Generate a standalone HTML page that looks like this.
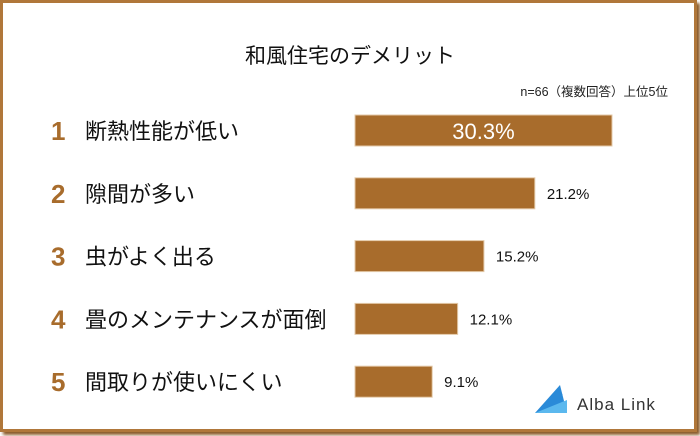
<!DOCTYPE html>
<html><head><meta charset="utf-8"><style>
body{margin:0;width:700px;height:436px;background:#fff;overflow:hidden;font-family:"Liberation Sans","Noto Sans CJK JP",sans-serif}
#frame{position:absolute;left:0;top:0;width:691px;height:426px;border:3px solid #b0773a;box-shadow:3px 3px 3px #8a5a28;background:#fff}
</style></head><body>
<div id="frame"></div>
<svg id="chart" width="700" height="436" style="position:absolute;left:0;top:0">
<text x="350" y="63" text-anchor="middle" font-size="21" fill="#111" font-family="'Liberation Sans','Noto Sans CJK JP',sans-serif">和風住宅のデメリット</text>
<text x="668" y="96" text-anchor="end" font-size="12.5" fill="#222" font-family="'Liberation Sans','Noto Sans CJK JP',sans-serif">n=66（複数回答）上位5位</text>
<g id="bars"></g>
<g>
<polygon points="535,413 560,385 567,413" fill="#2a8ad8"/>
<polygon points="535,413 567,400 567,413" fill="#5bb8ee"/>
<circle cx="561" cy="395" r="1.5" fill="#2a8ad8"/>
<text x="577" y="410" font-size="17" fill="#333" letter-spacing="1" font-family="'Liberation Sans',sans-serif">Alba Link</text>
</g>
</svg>
<script>
const categories=["断熱性能が低い","隙間が多い","虫がよく出る","畳のメンテナンスが面倒","間取りが使いにくい"];
const values=[30.3,21.2,15.2,12.1,9.1];
const valueLabels=["30.3%","21.2%","15.2%","12.1%","9.1%"];
const x0=355, scale=257/30.3;
function xs(v){return v*scale;}
function yRow(i){return 115+i*62.8;}
const g=document.getElementById('bars');
const NS='http://www.w3.org/2000/svg';
const ff="'Liberation Sans','Noto Sans CJK JP',sans-serif";
categories.forEach((c,i)=>{
  const y=yRow(i);
  const n=document.createElementNS(NS,'text');
  n.setAttribute('x',51);n.setAttribute('y',y+25);n.setAttribute('font-size',26);n.setAttribute('font-weight','bold');n.setAttribute('fill','#a86c2c');n.setAttribute('font-family',ff);n.textContent=String(i+1);
  
  
  g.appendChild(n);
  const t=document.createElementNS(NS,'text');
  t.setAttribute('x',85);t.setAttribute('y',y+24);t.setAttribute('font-size',22);t.setAttribute('fill','#111');t.setAttribute('font-family',ff);t.textContent=c;
  
  
  g.appendChild(t);
  const r=document.createElementNS(NS,'rect');
  r.setAttribute('x',x0);r.setAttribute('y',y);r.setAttribute('width',xs(values[i]));r.setAttribute('height',31);r.setAttribute('fill','#a86c2c');r.setAttribute('stroke','#e3c9a8');r.setAttribute('stroke-width',1);
  
  
  g.appendChild(r);
  const v=document.createElementNS(NS,'text');
  v.setAttribute('font-family',ff);
  if(i===0){v.setAttribute('x',x0+xs(values[i])/2);v.setAttribute('y',y+24);v.setAttribute('text-anchor','middle');v.setAttribute('font-size',22);v.setAttribute('fill','#fff');}
  else{v.setAttribute('x',x0+xs(values[i])+12);v.setAttribute('y',y+21);v.setAttribute('font-size',15);v.setAttribute('fill','#111');}
  v.textContent=valueLabels[i];
  
  
  g.appendChild(v);
});
</script>
</body></html>
